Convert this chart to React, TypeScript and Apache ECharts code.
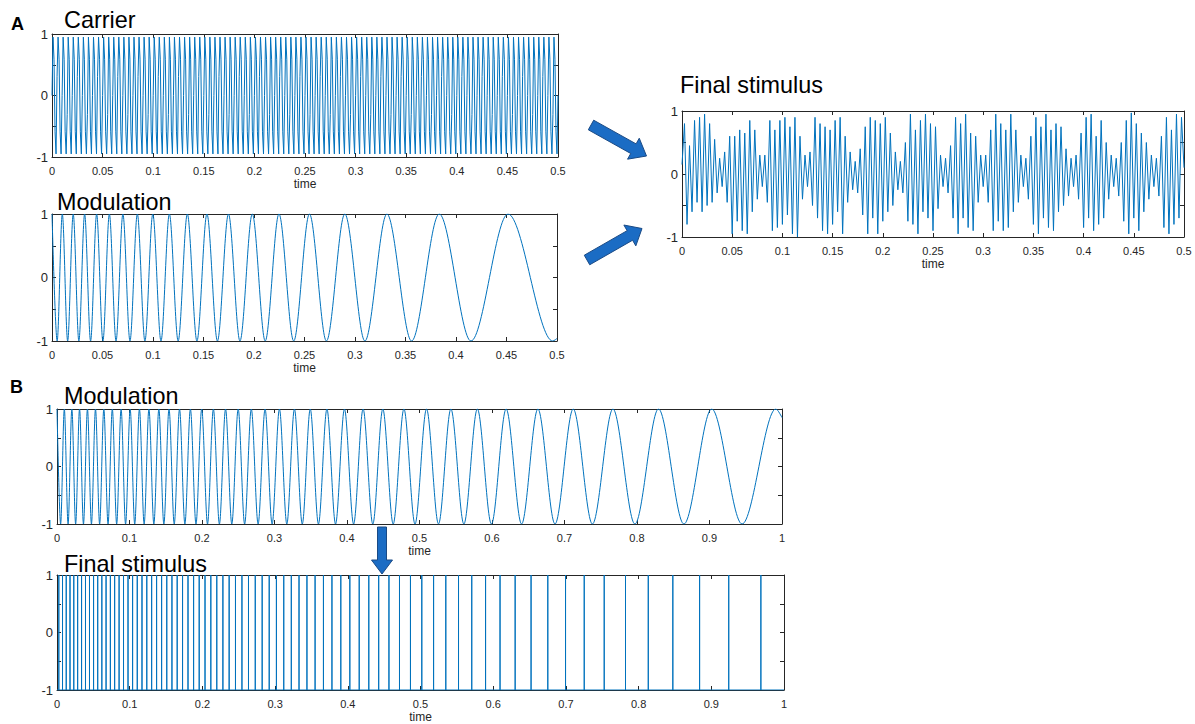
import React, { useEffect, useRef } from "react";
import * as echarts from "echarts";

// ---------------- DATA ----------------
// Carrier: sampled every 1 ms, 0 .. 0.5 s
const CARRIER_DT = 0.001;
const carrier = [
  0, 0.95, 0.59, -0.59, -0.95, 0.31, 0.95, 0.59, -0.59, -0.95,
  0, 0.95, 0.59, -0.59, -0.95, -0.31, 0.95, 0.59, -0.59, -0.95,
  0, 0.95, 0.59, -0.59, -0.95, 0.31, 0.95, 0.59, -0.59, -0.95,
  0, 0.95, 0.59, -0.59, -0.95, -0.31, 0.95, 0.59, -0.59, -0.95,
  0, 0.95, 0.59, -0.59, -0.95, 0.31, 0.95, 0.59, -0.59, -0.95,
  0, 0.95, 0.59, -0.59, -0.95, -0.31, 0.95, 0.59, -0.59, -0.95,
  0, 0.95, 0.59, -0.59, -0.95, 0.31, 0.95, 0.59, -0.59, -0.95,
  0, 0.95, 0.59, -0.59, -0.95, -0.31, 0.95, 0.59, -0.59, -0.95,
  0, 0.95, 0.59, -0.59, -0.95, 0.31, 0.95, 0.59, -0.59, -0.95,
  0, 0.95, 0.59, -0.59, -0.95, -0.31, 0.95, 0.59, -0.59, -0.95,
  0, 0.95, 0.59, -0.59, -0.95, 0.31, 0.95, 0.59, -0.59, -0.95,
  0, 0.95, 0.59, -0.59, -0.95, -0.31, 0.95, 0.59, -0.59, -0.95,
  0, 0.95, 0.59, -0.59, -0.95, 0.31, 0.95, 0.59, -0.59, -0.95,
  0, 0.95, 0.59, -0.59, -0.95, -0.31, 0.95, 0.59, -0.59, -0.95,
  0, 0.95, 0.59, -0.59, -0.95, 0.31, 0.95, 0.59, -0.59, -0.95,
  0, 0.95, 0.59, -0.59, -0.95, -0.31, 0.95, 0.59, -0.59, -0.95,
  0, 0.95, 0.59, -0.59, -0.95, 0.31, 0.95, 0.59, -0.59, -0.95,
  0, 0.95, 0.59, -0.59, -0.95, -0.31, 0.95, 0.59, -0.59, -0.95,
  0, 0.95, 0.59, -0.59, -0.95, 0.31, 0.95, 0.59, -0.59, -0.95,
  0, 0.95, 0.59, -0.59, -0.95, -0.31, 0.95, 0.59, -0.59, -0.95,
  0, 0.95, 0.59, -0.59, -0.95, 0.31, 0.95, 0.59, -0.59, -0.95,
  0, 0.95, 0.59, -0.59, -0.95, -0.31, 0.95, 0.59, -0.59, -0.95,
  0, 0.95, 0.59, -0.59, -0.95, 0.31, 0.95, 0.59, -0.59, -0.95,
  0, 0.95, 0.59, -0.59, -0.95, -0.31, 0.95, 0.59, -0.59, -0.95,
  0, 0.95, 0.59, -0.59, -0.95, 0.31, 0.95, 0.59, -0.59, -0.95,
  0, 0.95, 0.59, -0.59, -0.95, -0.31, 0.95, 0.59, -0.59, -0.95,
  0, 0.95, 0.59, -0.59, -0.95, 0.31, 0.95, 0.59, -0.59, -0.95,
  0, 0.95, 0.59, -0.59, -0.95, -0.31, 0.95, 0.59, -0.59, -0.95,
  0, 0.95, 0.59, -0.59, -0.95, 0.31, 0.95, 0.59, -0.59, -0.95,
  0, 0.95, 0.59, -0.59, -0.95, -0.31, 0.95, 0.59, -0.59, -0.95,
  0, 0.95, 0.59, -0.59, -0.95, 0.31, 0.95, 0.59, -0.59, -0.95,
  0, 0.95, 0.59, -0.59, -0.95, -0.31, 0.95, 0.59, -0.59, -0.95,
  0, 0.95, 0.59, -0.59, -0.95, 0.31, 0.95, 0.59, -0.59, -0.95,
  0, 0.95, 0.59, -0.59, -0.95, -0.31, 0.95, 0.59, -0.59, -0.95,
  0, 0.95, 0.59, -0.59, -0.95, 0.31, 0.95, 0.59, -0.59, -0.95,
  0, 0.95, 0.59, -0.59, -0.95, -0.31, 0.95, 0.59, -0.59, -0.95,
  0, 0.95, 0.59, -0.59, -0.95, 0.31, 0.95, 0.59, -0.59, -0.95,
  0, 0.95, 0.59, -0.59, -0.95, -0.31, 0.95, 0.59, -0.59, -0.95,
  0, 0.95, 0.59, -0.59, -0.95, 0.31, 0.95, 0.59, -0.59, -0.95,
  0, 0.95, 0.59, -0.59, -0.95, -0.31, 0.95, 0.59, -0.59, -0.95,
  0, 0.95, 0.59, -0.59, -0.95, 0.31, 0.95, 0.59, -0.59, -0.95,
  0, 0.95, 0.59, -0.59, -0.95, -0.31, 0.95, 0.59, -0.59, -0.95,
  0, 0.95, 0.59, -0.59, -0.95, 0.31, 0.95, 0.59, -0.59, -0.95,
  0, 0.95, 0.59, -0.59, -0.95, -0.31, 0.95, 0.59, -0.59, -0.95,
  0, 0.95, 0.59, -0.59, -0.95, 0.31, 0.95, 0.59, -0.59, -0.95,
  0, 0.95, 0.59, -0.59, -0.95, -0.31, 0.95, 0.59, -0.59, -0.95,
  0, 0.95, 0.59, -0.59, -0.95, 0.31, 0.95, 0.59, -0.59, -0.95,
  0, 0.95, 0.59, -0.59, -0.95, -0.31, 0.95, 0.59, -0.59, -0.95,
  0, 0.95, 0.59, -0.59, -0.95, 0.31, 0.95, 0.59, -0.59, -0.95,
  0, 0.95, 0.59, -0.59, -0.95, -0.31, 0.95, 0.59, -0.59, -0.95,
  0,
];

// Modulation A: times of the maxima (+1) and minima (-1), seconds
const modAPeaks = [0, 0.0102, 0.021, 0.0323, 0.0442, 0.0568, 0.0702, 0.0845, 0.0998, 0.1162,
  0.134, 0.1534, 0.1747, 0.1983, 0.2247, 0.2549, 0.2899, 0.3316, 0.3834, 0.4515];
const modATroughs = [0.0051, 0.0155, 0.0266, 0.0382, 0.0504, 0.0634, 0.0772, 0.092, 0.1079, 0.1249,
  0.1435, 0.1638, 0.1861, 0.2111, 0.2393, 0.2717, 0.3098, 0.356, 0.4148, 0.4957];
const modAEnd = [0.5, -0.96];

// Final stimulus A: sampled every 2.5 ms
const FINAL_A_DT = 0.0025;
const finalA = [
  0.15, 0.8, -0.8, 0.45, -0.6, 0.85, -0.45, 0.9, -0.6, 0.95,
  -0.5, 0.8, -0.45, 0.55, -0.3, 0.25, -0.2, 0.35, -0.45, 0.6,
  -0.95, 0.6, -0.75, 0.7, -0.9, 0.65, -0.95, 0.85, -0.6, 0.7,
  -0.4, 0.3, -0.2, 0.3, -0.45, 0.85, -0.9, 0.7, -0.85, 0.85,
  -0.8, 0.9, -0.65, 0.75, -0.95, 0.9, -1.0, 0.6, -0.4, 0.3,
  -0.2, 0.35, -0.5, 0.9, -0.7, 0.8, -0.9, 0.75, -0.95, 0.7,
  -0.8, 0.85, -0.6, 0.9, -0.95, 0.6, -0.45, 0.35, -0.25, 0.2,
  -0.3, 0.4, -0.65, 0.75, -0.95, 0.9, -0.7, 0.85, -0.95, 0.8,
  -0.75, 0.9, -0.6, 0.65, -0.5, 0.35, -0.25, 0.2, -0.3, 0.5,
  -0.75, 0.95, -0.8, 0.7, -0.95, 0.85, -0.6, 0.95, -0.7, 0.8,
  -0.9, 0.75, -0.55, 0.3, -0.2, 0.25, -0.3, 0.45, -0.7, 0.9,
  -0.95, 0.8, -0.7, 0.95, -0.85, 0.65, -0.9, 0.6, -0.45, 0.3,
  -0.2, 0.3, -0.45, 0.7, -0.9, 0.95, -0.75, 0.8, -0.9, 0.7,
  -0.85, 0.95, -0.6, 0.7, -0.45, 0.3, -0.2, 0.25, -0.4, 0.6,
  -0.8, 0.9, -0.95, 0.75, -0.7, 0.95, -0.85, 0.7, -0.9, 0.8,
  -0.6, 0.75, -0.5, 0.4, -0.35, 0.25, -0.2, 0.3, -0.4, 0.65,
  -0.85, 0.9, -0.7, 0.95, -0.9, 0.6, -0.8, 0.85, -0.7, 0.5,
  -0.4, 0.3, -0.2, 0.25, -0.35, 0.5, -0.75, 0.85, -0.95, 0.97,
  -0.7, 0.8, -0.9, 0.65, -0.6, 0.5, -0.4, 0.3, -0.2, 0.25,
  -0.35, 0.6, -0.85, 0.9, -0.95, 0.7, -0.8, 0.95, -0.7, 0.9, 0.1,
];

// Modulation B: times of maxima and minima, seconds
const modBPeaks = [0, 0.0101, 0.0205, 0.0311, 0.042, 0.0531, 0.0646, 0.0763, 0.0884, 0.1009,
  0.1137, 0.1268, 0.1405, 0.1545, 0.169, 0.184, 0.1996, 0.2157, 0.2325, 0.2499,
  0.268, 0.287, 0.3068, 0.3275, 0.3493, 0.3723, 0.3965, 0.4222, 0.4494, 0.4785,
  0.5097, 0.5433, 0.5798, 0.6195, 0.6633, 0.712, 0.7668, 0.8296, 0.903, 0.9914];
const modBTroughs = [0.005, 0.0153, 0.0257, 0.0365, 0.0475, 0.0588, 0.0704, 0.0823, 0.0946, 0.1072,
  0.1202, 0.1336, 0.1474, 0.1617, 0.1764, 0.1917, 0.2076, 0.224, 0.2411, 0.2588,
  0.2774, 0.2967, 0.317, 0.3383, 0.3606, 0.3842, 0.4091, 0.4356, 0.4637, 0.4938,
  0.5262, 0.5612, 0.5992, 0.6408, 0.6869, 0.7385, 0.7971, 0.8647, 0.9449];
const modBEnd = [1, 0.85];

// Final stimulus B: click times (s)
const clicksB = [0.0025, 0.0076, 0.0127, 0.0179, 0.0231, 0.0284, 0.0338, 0.0392, 0.0447, 0.0503,
  0.056, 0.0617, 0.0675, 0.0734, 0.0793, 0.0854, 0.0915, 0.0977, 0.104, 0.1104,
  0.1169, 0.1235, 0.1302, 0.137, 0.1439, 0.151, 0.1581, 0.1653, 0.1727, 0.1802,
  0.1879, 0.1956, 0.2036, 0.2116, 0.2198, 0.2282, 0.2368, 0.2455, 0.2544, 0.2634,
  0.2727, 0.2822, 0.2919, 0.3018, 0.3119, 0.3223, 0.3329, 0.3438, 0.355, 0.3665,
  0.3782, 0.3904, 0.4028, 0.4157, 0.4289, 0.4425, 0.4566, 0.4711, 0.4862, 0.5018,
  0.518, 0.5348, 0.5523, 0.5705, 0.5895, 0.6094, 0.6302, 0.6521, 0.6751, 0.6995,
  0.7252, 0.7527, 0.782, 0.8133, 0.8471, 0.8839, 0.924, 0.9682];
const clickLow = -1;
const clickHigh = 1;

const titles = ["Carrier", "Modulation", "Final stimulus", "Modulation", "Final stimulus"];
const xLabel = "time";

// ---------------- LAYOUT ----------------
const FONT = "'Liberation Sans', Arial, Helvetica, sans-serif";
const INK = "#262626";
const BLUE = "#0072BD";

const panels = [
  { left: 52, top: 34, width: 506, height: 123, max: 0.5, interval: 0.05 },
  { left: 52, top: 214, width: 505, height: 127, max: 0.5, interval: 0.05 },
  { left: 682, top: 111, width: 502, height: 126, max: 0.5, interval: 0.05 },
  { left: 57, top: 409, width: 725, height: 115, max: 1, interval: 0.1 },
  { left: 57, top: 575, width: 727, height: 117, max: 1, interval: 0.1 },
];
const titlePos = [
  [64, 28.3], [57, 210], [680, 93.3], [64, 404.3], [64, 572.7],
];
const TITLE_FS = 23.4;

function interleave(peaks: number[], troughs: number[], end: number[]) {
  const pts: number[][] = [];
  const n = Math.max(peaks.length, troughs.length);
  for (let i = 0; i < n; i++) {
    if (i < peaks.length) pts.push([peaks[i], 1]);
    if (i < troughs.length) pts.push([troughs[i], -1]);
  }
  pts.sort((a, b) => a[0] - b[0]);
  pts.push(end);
  return pts;
}

function arrow(tail: number[], tip: number[], sw: number, hw: number, hl: number) {
  const dx = tip[0] - tail[0];
  const dy = tip[1] - tail[1];
  const len = Math.sqrt(dx * dx + dy * dy);
  const ux = dx / len, uy = dy / len;
  const px = -uy, py = ux;
  const nx = tip[0] - ux * hl, ny = tip[1] - uy * hl;
  return [
    [tail[0] + px * sw / 2, tail[1] + py * sw / 2],
    [nx + px * sw / 2, ny + py * sw / 2],
    [nx + px * hw / 2, ny + py * hw / 2],
    [tip[0], tip[1]],
    [nx - px * hw / 2, ny - py * hw / 2],
    [nx - px * sw / 2, ny - py * sw / 2],
    [tail[0] - px * sw / 2, tail[1] - py * sw / 2],
  ];
}

function buildOption() {
  const carrierData = carrier.map((v, i) => [i * CARRIER_DT, v]);
  const finalAData = finalA.map((v, i) => [i * FINAL_A_DT, v]);
  const modAData = interleave(modAPeaks, modATroughs, modAEnd);
  const modBData = interleave(modBPeaks, modBTroughs, modBEnd);
  const finalBData: number[][] = [[0, clickLow]];
  clicksB.forEach((c) => {
    finalBData.push([c, clickLow], [c, clickHigh], [c, clickLow]);
  });
  finalBData.push([1, clickLow]);

  const seriesData = [carrierData, modAData, finalAData, modBData, finalBData];
  const smooth = [false, 0.33, false, 0.33, false];

  const grid: any[] = [];
  const xAxis: any[] = [];
  const yAxis: any[] = [];
  const series: any[] = [];

  panels.forEach((p, i) => {
    grid.push({ left: p.left, top: p.top, width: p.width, height: p.height, containLabel: false });
    const tickCommon = { show: true, inside: true, length: 4, lineStyle: { color: INK, width: 1 } };
    const lineCommon = { show: true, onZero: false, lineStyle: { color: INK, width: 1 } };
    xAxis.push({
      type: "value", gridIndex: i, min: 0, max: p.max, interval: p.interval, position: "bottom",
      axisLine: lineCommon, axisTick: tickCommon, splitLine: { show: false },
      axisLabel: {
        show: true, color: INK, fontSize: 11, fontFamily: FONT, margin: 8,
        showMinLabel: true, showMaxLabel: true,
        formatter: (v: number) => String(Math.round(v * 100) / 100),
      },
      name: xLabel, nameLocation: "middle", nameGap: 21,
      nameTextStyle: { color: INK, fontSize: 12, fontFamily: FONT },
    });
    xAxis.push({
      type: "value", gridIndex: i, min: 0, max: p.max, interval: p.interval, position: "top",
      axisLine: lineCommon, axisTick: tickCommon, splitLine: { show: false },
      axisLabel: { show: false },
    });
    yAxis.push({
      type: "value", gridIndex: i, min: -1, max: 1, interval: 0.5, position: "left",
      axisLine: lineCommon, axisTick: tickCommon, splitLine: { show: false },
      axisLabel: {
        show: true, color: INK, fontSize: 13, fontFamily: FONT, margin: 4,
        showMinLabel: true, showMaxLabel: true,
        formatter: (v: number) => (Math.abs(v - Math.round(v)) < 1e-9 ? String(Math.round(v)) : ""),
      },
    });
    yAxis.push({
      type: "value", gridIndex: i, min: -1, max: 1, interval: 0.5, position: "right",
      axisLine: lineCommon, axisTick: tickCommon, splitLine: { show: false },
      axisLabel: { show: false },
    });
    series.push({
      type: "line", xAxisIndex: i * 2, yAxisIndex: i * 2,
      data: seriesData[i], showSymbol: false, symbol: "none",
      smooth: smooth[i], smoothMonotone: smooth[i] ? "x" : undefined,
      lineStyle: { color: BLUE, width: 1 }, silent: true, z: 3,
    });
  });

  const graphic: any[] = [];
  titles.forEach((t, i) => {
    graphic.push({
      type: "text", x: titlePos[i][0], y: titlePos[i][1] - 0.8465 * TITLE_FS,
      style: { text: t, font: `${TITLE_FS}px ${FONT}`, fill: "#000", verticalAlign: "top", align: "left" },
    });
  });
  graphic.push({
    type: "text", x: 11, y: 30.7 - 0.8465 * 18,
    style: { text: "A", font: `bold 18px ${FONT}`, fill: "#000", verticalAlign: "top", align: "left" },
  });
  graphic.push({
    type: "text", x: 10, y: 393.3 - 0.8465 * 18,
    style: { text: "B", font: `bold 18px ${FONT}`, fill: "#000", verticalAlign: "top", align: "left" },
  });
  const arrowStyle = { fill: "#1b6cc4", stroke: "#1a4a85", lineWidth: 1 };
  graphic.push({ type: "polygon", shape: { points: arrow([591, 125], [646.5, 156], 11, 24, 15) }, style: arrowStyle });
  graphic.push({ type: "polygon", shape: { points: arrow([587, 260], [642, 228.5], 11, 24, 14) }, style: arrowStyle });
  graphic.push({ type: "polygon", shape: { points: arrow([382, 527], [382, 574], 9, 21, 14) }, style: arrowStyle });

  return { animation: false, backgroundColor: "#ffffff", grid, xAxis, yAxis, series, graphic };
}

export default function App() {
  const ref = useRef<HTMLDivElement>(null);
  useEffect(() => {
    if (!ref.current) return;
    const chart = echarts.init(ref.current, null, { renderer: "svg" });
    chart.setOption(buildOption() as any);
    return () => chart.dispose();
  }, []);
  return (
    <div
      ref={ref}
      style={{ position: "fixed", left: 0, top: 0, width: 1195, height: 724, background: "#fff" }}
    />
  );
}
